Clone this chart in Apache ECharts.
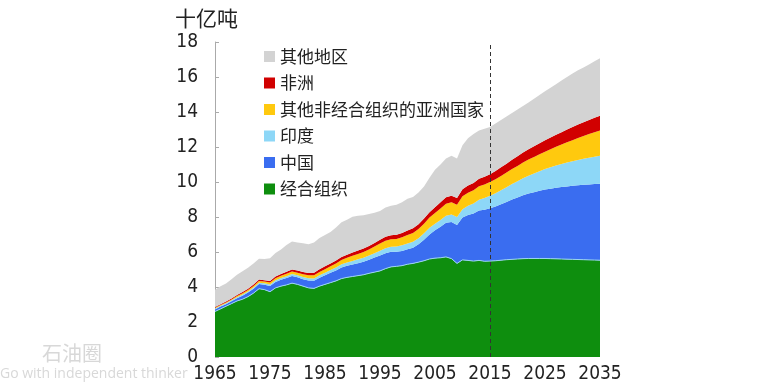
<!DOCTYPE html>
<html><head><meta charset="utf-8">
<script src="https://cdn.jsdelivr.net/npm/echarts@6/dist/echarts.min.js"></script>
<style>html,body{margin:0;padding:0;background:#fff}#c{width:775px;height:388px}</style>
</head><body><div id="c"></div>
<script>
var years = [];
for (var y = 1965; y <= 2035; y++) years.push(String(y));

var oecd = [2.60,2.75,2.90,3.05,3.20,3.30,3.45,3.65,3.90,3.85,3.73,3.95,4.05,4.12,4.22,4.15,4.05,3.95,3.92,4.05,4.15,4.25,4.35,4.48,4.55,4.60,4.65,4.70,4.78,4.85,4.92,5.05,5.15,5.18,5.22,5.30,5.35,5.42,5.50,5.60,5.65,5.67,5.72,5.62,5.35,5.55,5.52,5.48,5.52,5.47,5.48,5.50,5.53,5.56,5.58,5.60,5.62,5.63,5.63,5.63,5.63,5.62,5.61,5.60,5.59,5.58,5.57,5.56,5.55,5.54,5.53];
var china = [0.12,0.13,0.12,0.13,0.16,0.20,0.23,0.25,0.27,0.28,0.33,0.34,0.37,0.40,0.41,0.41,0.40,0.42,0.44,0.48,0.52,0.56,0.60,0.64,0.66,0.68,0.71,0.74,0.78,0.83,0.88,0.88,0.86,0.84,0.84,0.86,0.90,1.02,1.20,1.40,1.60,1.78,1.95,2.10,2.20,2.42,2.60,2.72,2.85,2.95,3.02,3.10,3.20,3.30,3.42,3.52,3.62,3.71,3.79,3.87,3.94,4.00,4.06,4.11,4.16,4.20,4.24,4.28,4.31,4.34,4.37];
var india = [0.05,0.05,0.05,0.06,0.06,0.07,0.07,0.07,0.08,0.08,0.09,0.09,0.10,0.10,0.11,0.11,0.12,0.13,0.13,0.14,0.15,0.16,0.17,0.18,0.19,0.21,0.22,0.23,0.24,0.25,0.27,0.28,0.29,0.30,0.32,0.33,0.34,0.35,0.37,0.39,0.36,0.38,0.40,0.42,0.45,0.48,0.52,0.57,0.62,0.67,0.72,0.76,0.80,0.84,0.88,0.92,0.97,1.02,1.07,1.12,1.17,1.22,1.27,1.32,1.37,1.41,1.45,1.49,1.53,1.57,1.60];
var otherAsia = [0.04,0.04,0.05,0.05,0.06,0.07,0.08,0.09,0.10,0.10,0.11,0.12,0.13,0.14,0.15,0.15,0.16,0.17,0.18,0.19,0.20,0.22,0.23,0.25,0.27,0.29,0.31,0.33,0.35,0.38,0.41,0.44,0.43,0.43,0.46,0.48,0.50,0.52,0.55,0.58,0.62,0.66,0.69,0.70,0.70,0.74,0.75,0.76,0.77,0.77,0.78,0.80,0.82,0.84,0.86,0.88,0.90,0.92,0.94,0.96,0.99,1.03,1.07,1.11,1.15,1.20,1.25,1.30,1.35,1.40,1.45];
var africa = [0.05,0.05,0.05,0.06,0.06,0.07,0.07,0.08,0.08,0.08,0.09,0.10,0.10,0.11,0.11,0.12,0.13,0.13,0.14,0.15,0.16,0.16,0.17,0.17,0.18,0.19,0.19,0.20,0.20,0.21,0.22,0.22,0.23,0.24,0.25,0.26,0.27,0.28,0.29,0.30,0.33,0.35,0.37,0.38,0.39,0.40,0.41,0.42,0.43,0.44,0.45,0.47,0.49,0.51,0.53,0.55,0.57,0.59,0.61,0.63,0.65,0.67,0.69,0.71,0.73,0.75,0.77,0.79,0.81,0.82,0.84];
var otherRegions = [0.99,1.03,1.03,1.10,1.16,1.19,1.20,1.21,1.19,1.21,1.29,1.35,1.40,1.53,1.60,1.61,1.64,1.65,1.74,1.79,1.79,1.80,1.88,1.98,2.00,2.05,1.99,1.90,1.82,1.73,1.65,1.68,1.69,1.71,1.76,1.82,1.79,1.81,1.84,1.98,2.14,2.16,2.22,2.28,2.26,2.51,2.70,2.80,2.76,2.75,2.70,2.72,2.71,2.70,2.68,2.68,2.67,2.68,2.72,2.76,2.80,2.84,2.88,2.95,3.00,3.06,3.10,3.13,3.17,3.23,3.28];

var yTicks = [0,2,4,6,8,10,12,14,16,18];
var names = ['经合组织','中国','印度','其他非经合组织的亚洲国家','非洲','其他地区'];
var colors = ['#0e8e0e','#3a6df0','#8dd7f7','#ffc90e','#d10000','#d3d3d3'];
var dataSets = [oecd, china, india, otherAsia, africa, otherRegions];

var numFont = '"DejaVu Sans"';
var cjkFont = '"Noto Sans CJK SC","Noto Sans",sans-serif';

var series = dataSets.map(function (d, i) {
  var s = {
    name: names[i], type: 'line', stack: 'total', data: d,
    symbol: 'none', smooth: false,
    lineStyle: { width: i === 0 ? 1 : 0, color: '#9ad4f0' },
    itemStyle: { color: colors[i] },
    areaStyle: { color: colors[i], opacity: 1 },
    z: 2
  };
  if (i === 5) {
    s.markLine = {
      silent: true, symbol: 'none', label: { show: false },
      lineStyle: { color: '#333', type: [4, 3], width: 1 },
      data: [{ xAxis: '2015' }]
    };
  }
  return s;
});

var chart = echarts.init(document.getElementById('c'), null, { renderer: 'canvas' });
chart.setOption({
  animation: false,
  backgroundColor: '#fff',
  grid: { left: 215, right: 175, top: 42, bottom: 31 },
  title: {
    text: '十亿吨', left: 170, top: 3,
    textStyle: { fontFamily: cjkFont, fontSize: 21, fontWeight: 'normal', color: '#222' }
  },
  legend: {
    data: names.slice().reverse(),
    orient: 'vertical', left: 259, top: 43,
    itemWidth: 11, itemHeight: 11, itemGap: 9.5,
    icon: 'rect',
    textStyle: { fontFamily: cjkFont, fontSize: 17, color: '#222' }
  },
  xAxis: {
    type: 'category', data: years, boundaryGap: false,
    axisLine: { show: false }, axisTick: { show: false },
    axisLabel: {
      interval: 9, fontFamily: numFont, fontStyle: 'condensed', fontSize: 19, color: '#222', margin: 8,
      showMaxLabel: true
    },
    splitLine: { show: false }
  },
  yAxis: {
    type: 'value', min: yTicks[0], max: yTicks[yTicks.length - 1], interval: 2,
    axisLine: { show: true, lineStyle: { color: '#aaa' } },
    axisTick: { show: true, inside: true, length: 4, lineStyle: { color: '#aaa' } },
    axisLabel: { fontFamily: numFont, fontStyle: 'condensed', fontSize: 19, color: '#222', margin: 17 },
    splitLine: { show: false }
  },
  graphic: [
    { type: 'text', left: 42, top: 343, style: { text: '石油圈', fontFamily: cjkFont, fontSize: 20, fill: '#d8d8d8' } },
    { type: 'text', left: 0, top: 367, style: { text: 'Go with independent thinker', fontFamily: '"Open Sans",sans-serif', fontSize: 14, fill: '#d8d8d8' } }
  ],
  series: series
});
</script>
</body></html>
